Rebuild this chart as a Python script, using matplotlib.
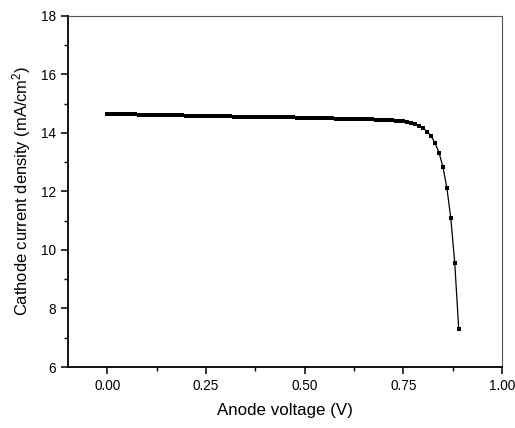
import matplotlib
matplotlib.use('Agg')
import matplotlib.pyplot as plt
from matplotlib.ticker import MultipleLocator

plt.rcParams['font.family'] = ['Liberation Sans', 'DejaVu Sans']
plt.rcParams['mathtext.default'] = 'regular'

# anode voltage (V), 0.00 .. 0.89 in 0.01 steps
voltage = [round(i * 0.01, 2) for i in range(90)]
# cathode current density (mA/cm2)
current = [14.65, 14.65, 14.64, 14.64, 14.64, 14.63, 14.63, 14.63, 14.62, 14.62,
           14.62, 14.62, 14.61, 14.61, 14.61, 14.61, 14.60, 14.60, 14.60, 14.60,
           14.59, 14.59, 14.59, 14.59, 14.58, 14.58, 14.58, 14.58, 14.57, 14.57,
           14.57, 14.57, 14.56, 14.56, 14.56, 14.56, 14.55, 14.55, 14.55, 14.55,
           14.54, 14.54, 14.54, 14.54, 14.53, 14.53, 14.53, 14.53, 14.52, 14.52,
           14.52, 14.52, 14.51, 14.51, 14.51, 14.50, 14.50, 14.50, 14.49, 14.49,
           14.49, 14.48, 14.48, 14.47, 14.47, 14.47, 14.46, 14.46, 14.45, 14.45,
           14.44, 14.44, 14.43, 14.42, 14.41, 14.39, 14.37, 14.34, 14.30, 14.24,
           14.16, 14.04, 13.90, 13.65, 13.33, 12.84, 12.12, 11.08, 9.55, 7.30]

fig = plt.figure(figsize=(5.15, 4.28), dpi=100)
ax = fig.add_axes([0.132, 0.1425, 0.843, 0.8205])

ax.plot(voltage, current, color='black', linewidth=0.9,
        marker='s', markersize=2.6, markerfacecolor='black', markeredgewidth=0)

ax.set_xlim(-0.1, 1.0)
ax.set_ylim(6, 18)
ax.xaxis.set_major_locator(MultipleLocator(0.25))
ax.xaxis.set_minor_locator(MultipleLocator(0.125))
ax.yaxis.set_major_locator(MultipleLocator(2))
ax.yaxis.set_minor_locator(MultipleLocator(1))
ax.xaxis.set_major_formatter(matplotlib.ticker.FormatStrFormatter('%.2f'))

ax.tick_params(which='major', direction='out', length=5, width=1.1, labelsize=9.8,
               top=False, right=False)
ax.tick_params(which='minor', direction='out', length=3, width=1.0,
               top=False, right=False)

for side in ['left', 'bottom']:
    ax.spines[side].set_linewidth(1.3)
    ax.spines[side].set_color('black')
for side in ['top', 'right']:
    ax.spines[side].set_linewidth(0.8)
    ax.spines[side].set_color('#555555')

ax.set_xlabel('Anode voltage (V)', fontsize=12.2, labelpad=7)
ax.set_ylabel('Cathode current density (mA/cm$^{2}$)', fontsize=11.9, labelpad=6)

fig.savefig('out.png', dpi=100)
